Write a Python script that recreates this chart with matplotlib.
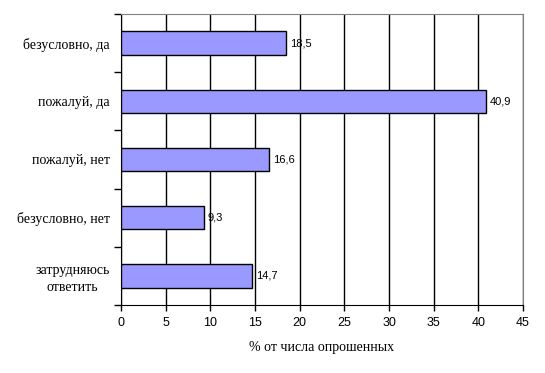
import matplotlib.pyplot as plt
import numpy as np

categories = ['безусловно, да', 'пожалуй, да', 'пожалуй, нет', 'безусловно, нет', 'затрудняюсь\nответить']
values = [18.5, 40.9, 16.6, 9.3, 14.7]
value_labels = ['18,5', '40,9', '16,6', '9,3', '14,7']
x_ticks = [0, 5, 10, 15, 20, 25, 30, 35, 40, 45]

fig = plt.figure(figsize=(5.45, 3.73), dpi=100)
ax = fig.add_axes([121 / 545, 1 - 305 / 373, (523 - 121) / 545, (305 - 14) / 373])

y = np.arange(len(categories))
ax.barh(y, values, height=0.4, color='#9999FF', edgecolor='black', linewidth=1, zorder=3)

for yi, v, lab in zip(y, values, value_labels):
    ax.annotate(lab, (v, yi), xytext=(2.5, 0), textcoords='offset points',
                va='center', ha='left', fontsize=8, family='Liberation Sans')

ax.set_xlim(0, 45)
ax.set_ylim(len(categories) - 0.5, -0.5)
ax.set_xticks(x_ticks)
ax.set_xticklabels([str(t) for t in x_ticks], family='Liberation Sans', fontsize=9)
ax.xaxis.grid(True, color='black', linewidth=1, zorder=0)
ax.tick_params(axis='x', direction='out', length=4, width=1, pad=5)

# category labels at centers, tick marks at boundaries
ax.set_yticks(np.arange(-0.5, len(categories)), minor=False)
ax.set_yticklabels([])
ax.tick_params(axis='y', which='major', direction='out', length=5, width=1)
ax.set_yticks(y, minor=True)
ax.set_yticklabels(categories, minor=True, family='Liberation Serif', fontsize=10,
                   multialignment='center', linespacing=1.4)
ax.tick_params(axis='y', which='minor', length=0, pad=8)

for side in ['top', 'right']:
    ax.spines[side].set_color('#808080')
for side in ['left', 'bottom']:
    ax.spines[side].set_color('black')

ax.set_xlabel('% от числа опрошенных', family='Liberation Serif', fontsize=10, labelpad=8)

fig.savefig('out.png', dpi=100)
